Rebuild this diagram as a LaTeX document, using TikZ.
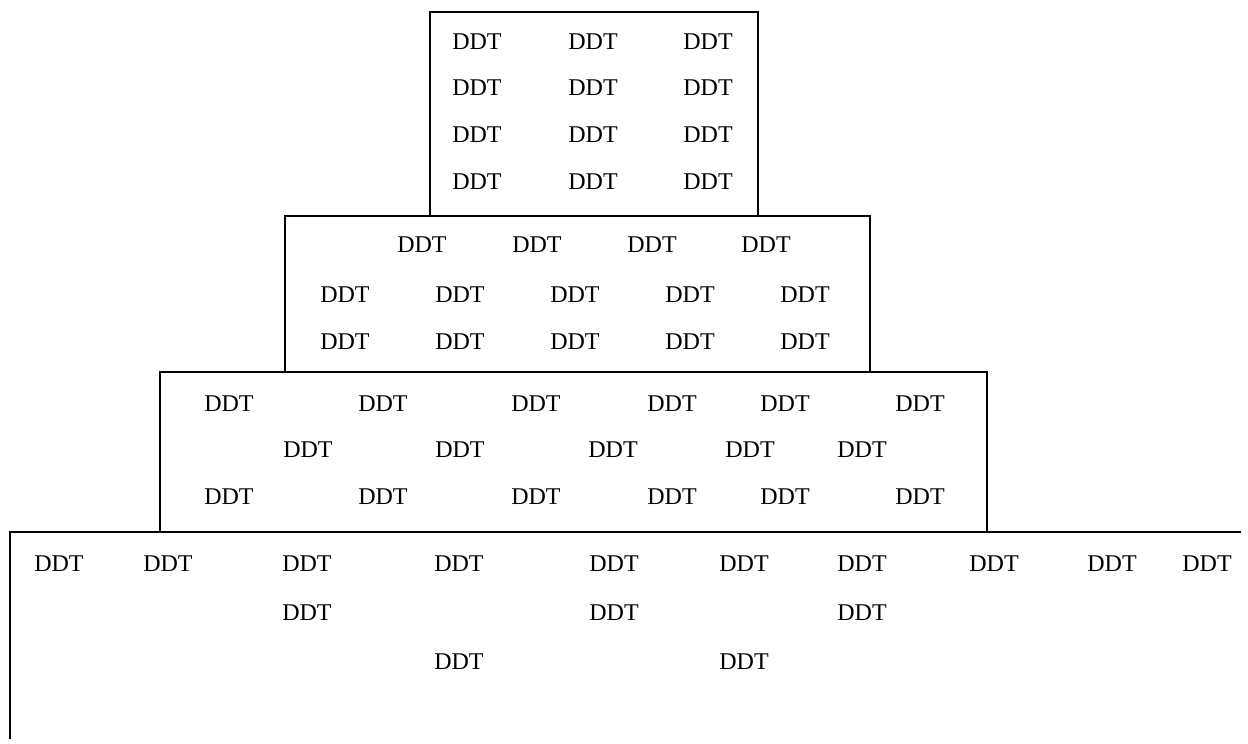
\documentclass[tikz,border=0pt]{standalone}
\usepackage{fontspec}
\setmainfont{Liberation Serif}
\begin{document}
\begin{tikzpicture}[x=0.5pt,y=-0.5pt,
  lab/.style={font=\fontsize{12}{14}\selectfont, inner sep=0pt},
  wall/.style={line width=1pt, line cap=rect}]
\useasboundingbox (0,0) rectangle (1248,744);
% tier outlines
\draw[wall] (430,216) -- (430,12) -- (758,12) -- (758,216);
\draw[wall] (285,216) rectangle (870,372);
\draw[wall] (160,372) rectangle (987,532);
\draw[wall] (10,738) -- (10,532) -- (1240,532);
% top tier
\foreach \y [count=\r] in {42,88,135,182}
  \foreach \x [count=\c] in {477,593,708}
    \node[lab] (a\r\c) at (\x,\y) {DDT};
% second tier
\foreach \x [count=\c] in {422,537,652,766}
  \node[lab] (b1\c) at (\x,245) {DDT};
\foreach \y [count=\r from 2] in {295,342}
  \foreach \x [count=\c] in {345,460,575,690,805}
    \node[lab] (b\r\c) at (\x,\y) {DDT};
% third tier
\foreach \y [count=\r] in {404,497}
  \foreach \x [count=\c] in {229,383,536,672,785,920}
    \node[lab] (c\r\c) at (\x,\y) {DDT};
\foreach \x [count=\c] in {308,460,613,750,862}
  \node[lab] (m\c) at (\x,450) {DDT};
% bottom tier
\foreach \x [count=\c] in {59,168,307,459,614,744,862,994,1112,1207}
  \node[lab] (d\c) at (\x,564) {DDT};
\foreach \x [count=\c] in {307,614,862}
  \node[lab] (e\c) at (\x,613) {DDT};
\foreach \x [count=\c] in {459,744}
  \node[lab] (f\c) at (\x,662) {DDT};
\end{tikzpicture}
\end{document}
